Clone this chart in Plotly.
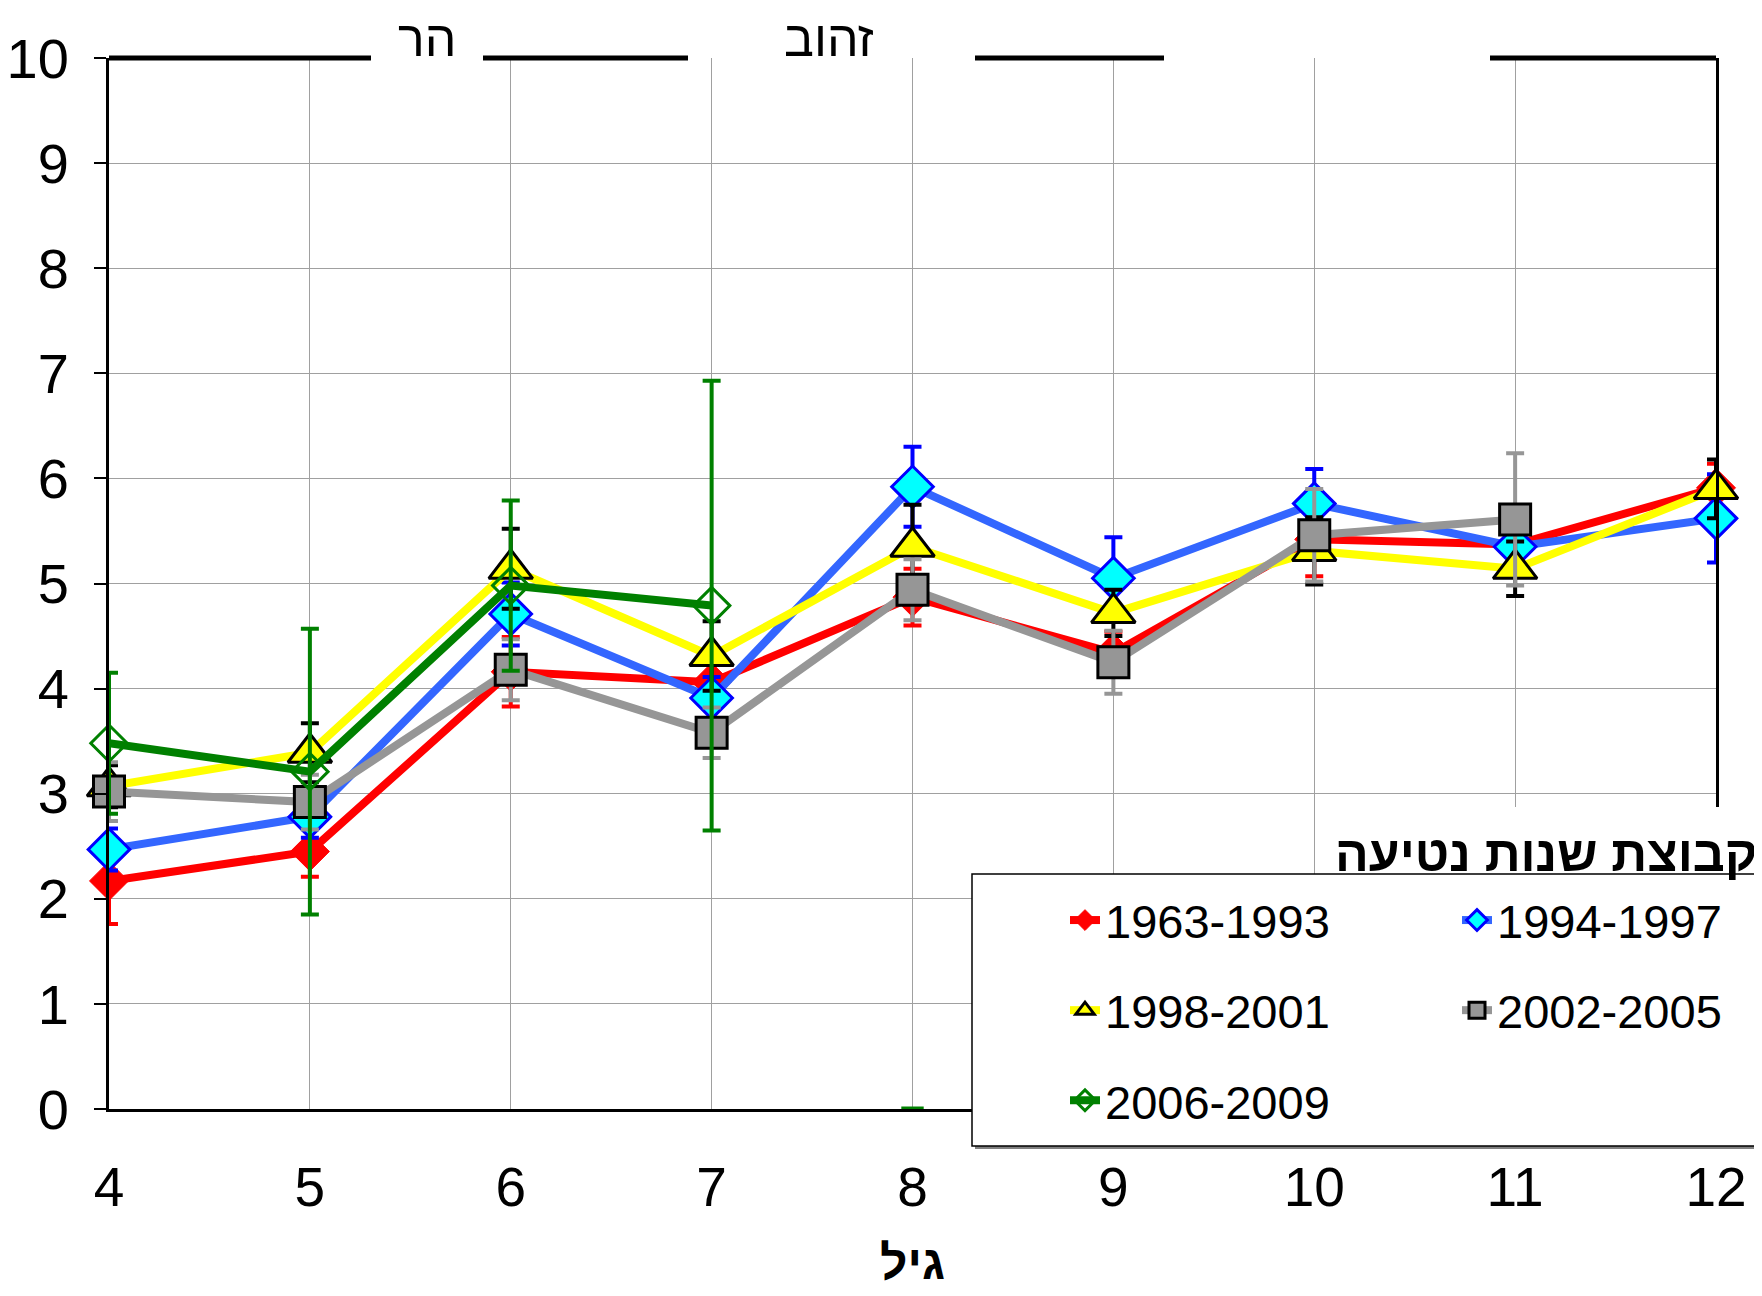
import plotly.graph_objects as go

W, H = 1762, 1296
L, R, T, B = 109, 1716, 58, 1109   # plot area as seen on screen
OFF = 8                             # page body margin


def px(x):
    return (x - L) / (R - L)


def py(y):
    return (B - y) / (B - T)


ages = [4, 5, 6, 7, 8, 9, 10, 11, 12]

names = ["1963-1993", "1994-1997", "1998-2001", "2002-2005", "2006-2009"]

red_y = [2.17, 2.45, 4.16, 4.06, 4.87, 4.34, 5.42, 5.37, 5.91]
red_err = [0.41, 0.24, 0.33, 0.22, 0.27, 0.20, 0.35, 0.22, 0.23]

blue_y = [2.47, 2.78, 4.71, 3.91, 5.92, 5.05, 5.76, 5.35, 5.62]
blue_err = [0.20, 0.20, 0.30, 0.20, 0.38, 0.39, 0.33, 0.20, 0.42]

yellow_y = [3.07, 3.39, 5.14, 4.31, 5.35, 4.72, 5.31, 5.14, 5.90]
yellow_err = [0.20, 0.28, 0.38, 0.33, 0.40, 0.22, 0.32, 0.26, 0.28]

gray_ages = [4, 5, 6, 7, 8, 9, 10, 11]
gray_y = [3.02, 2.92, 4.18, 3.58, 4.94, 4.25, 5.46, 5.61]
gray_err = [0.28, 0.26, 0.29, 0.24, 0.29, 0.30, 0.44, 0.63]

green_ages = [4, 5, 6, 7]
green_y = [3.48, 3.21, 4.98, 4.79]
green_err = [0.67, 1.36, 0.81, 2.14]

green_stub_x = [8]
green_stub_y = [0]

FONT = "Liberation Sans, Arial, DejaVu Sans, sans-serif"

styles = [
    dict(x=ages, y=red_y, err=red_err, line="#FF0000", errc="#FF0000",
         marker=dict(symbol="diamond", size=30, color="#FF0000",
                     line=dict(color="#FF0000", width=1)), legend="legend"),
    dict(x=ages, y=blue_y, err=blue_err, line="#3366FF", errc="#0000FF",
         marker=dict(symbol="diamond", size=32, color="#00FFFF",
                     line=dict(color="#0000FF", width=3)), legend="legend2"),
    dict(x=ages, y=yellow_y, err=yellow_err, line="#FFFF00", errc="#000000",
         marker=dict(symbol="triangle-up", size=38, color="#FFFF00",
                     line=dict(color="#000000", width=3)), legend="legend"),
    dict(x=gray_ages, y=gray_y, err=gray_err, line="#969696", errc="#969696",
         marker=dict(symbol="square", size=31, color="#969696",
                     line=dict(color="#000000", width=3)), legend="legend2"),
    dict(x=green_ages, y=green_y, err=green_err, line="#008000", errc="#008000",
         marker=dict(symbol="diamond-open", size=28, color="#008000",
                     line=dict(color="#008000", width=3)), legend="legend"),
]

fig = go.Figure()
for name, s in zip(names, styles):
    fig.add_trace(go.Scatter(
        x=s["x"], y=s["y"], name=name, mode="lines+markers",
        line=dict(color=s["line"], width=8), marker=s["marker"],
        error_y=dict(type="data", array=s["err"], visible=True,
                     color=s["errc"], thickness=4, width=9),
        cliponaxis=False, legend=s["legend"], legendgroup=name,
    ))

fig.add_trace(go.Scatter(
    x=green_stub_x, y=green_stub_y, mode="markers", showlegend=False,
    marker=dict(symbol="line-ew", size=16, line=dict(color="#008000", width=5)),
    cliponaxis=False,
))

shapes = []
# thick segments along the top frame
for a, b in [(109, 371), (483, 688), (975, 1164), (1490, 1716)]:
    shapes.append(dict(type="line", xref="paper", yref="paper", x0=px(a), x1=px(b),
                       y0=1, y1=1, line=dict(color="black", width=5), layer="above"))
# white area behind the legend title
shapes.append(dict(type="rect", xref="paper", yref="paper", x0=px(1326), x1=px(1760),
                   y0=py(874), y1=py(807), fillcolor="white", line=dict(width=0),
                   layer="above"))
# legend box shadow + box
shapes.append(dict(type="rect", xref="paper", yref="paper", x0=px(975), x1=px(1758),
                   y0=py(1149), y1=py(877), fillcolor="#808080", line=dict(width=0),
                   layer="above"))
shapes.append(dict(type="rect", xref="paper", yref="paper", x0=px(972), x1=px(1755),
                   y0=py(1146), y1=py(874), fillcolor="white",
                   line=dict(color="black", width=1.5), layer="above"))

annotations = [
    dict(text="הר", x=px(427), y=py(39), xanchor="center", yanchor="middle",
         font=dict(size=50)),
    dict(text="זהוב", x=px(829), y=py(39), xanchor="center", yanchor="middle",
         font=dict(size=50)),
    dict(text="<b>קבוצת שנות נטיעה</b>", x=px(1759), y=py(854),
         xanchor="right", yanchor="middle", font=dict(size=50)),
    dict(text="<b>גיל</b>", x=0.5, y=py(1262), xanchor="center", yanchor="middle",
         font=dict(size=48)),
]
for a in annotations:
    a.update(xref="paper", yref="paper", showarrow=False)
    a["font"] = dict(size=a["font"]["size"], color="black", family=FONT)

legend_common = dict(
    bgcolor="rgba(0,0,0,0)", borderwidth=0, orientation="v",
    yanchor="top", xanchor="left", tracegroupgap=26,
    font=dict(size=47, color="black", family=FONT),
)

fig.update_layout(
    width=W, height=H,
    margin=dict(l=L - OFF, r=W - R + OFF, t=T - OFF, b=H - B + OFF),
    plot_bgcolor="white", paper_bgcolor="white",
    font=dict(family=FONT, color="black"),
    shapes=shapes, annotations=annotations,
    legend=dict(x=px(1065), y=py(883), **legend_common),
    legend2=dict(x=px(1457), y=py(883), **legend_common),
)

fig.update_xaxes(
    range=[4, 12], dtick=1, tick0=4, showgrid=True, gridcolor="#A0A0A0", gridwidth=1,
    showline=True, linecolor="black", linewidth=3, zeroline=False, ticks="",
    tickfont=dict(size=55, color="black", family=FONT), ticklabelstandoff=28,
    automargin=False,
)
fig.update_yaxes(
    range=[0, 10], dtick=1, showgrid=True, gridcolor="#A0A0A0", gridwidth=1,
    showline=True, mirror=True, linecolor="black", linewidth=3, zeroline=False,
    ticks="outside", ticklen=12, tickwidth=2, tickcolor="black",
    tickfont=dict(size=56, color="black", family=FONT), ticklabelstandoff=14,
    automargin=False,
)

fig.write_html("out.html")
